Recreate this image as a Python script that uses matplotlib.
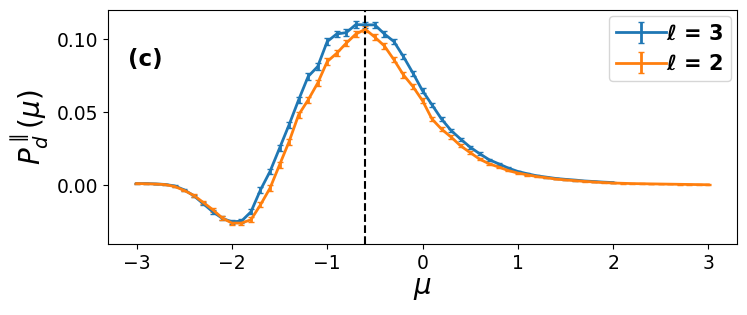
import numpy as np
import matplotlib.pyplot as plt

# ── data ──
mu_l3 = np.round(np.arange(-3.0, 2.0001, 0.1), 1)
P_l3 = [0.0013, 0.0013, 0.0011, 0.0007, -0.0003, -0.0030, -0.0070, -0.0125, -0.0180, -0.0225,
        -0.0248, -0.0244, -0.0180, -0.0030, 0.0096, 0.0255, 0.0415, 0.0585, 0.0745, 0.0813,
        0.0984, 0.1036, 0.1045, 0.1100, 0.1098, 0.1098, 0.1036, 0.0984, 0.0881, 0.0768,
        0.0648, 0.0551, 0.0454, 0.0376, 0.0317, 0.0262, 0.0217, 0.0176, 0.0148, 0.0119,
        0.0096, 0.0080, 0.0066, 0.0057, 0.0048, 0.0042, 0.0037, 0.0031, 0.0027, 0.0023,
        0.0020]
err_l3 = [0.0002, 0.0002, 0.0002, 0.0003, 0.0004, 0.0006, 0.0008, 0.0010, 0.0012, 0.0013,
          0.0014, 0.0015, 0.0016, 0.0018, 0.0019, 0.0020, 0.0021, 0.0022, 0.0022, 0.0022,
          0.0022, 0.0022, 0.0022, 0.0022, 0.0022, 0.0021, 0.0020, 0.0019, 0.0018, 0.0017,
          0.0016, 0.0015, 0.0013, 0.0012, 0.0011, 0.0010, 0.0009, 0.0008, 0.0007, 0.0006,
          0.0005, 0.0005, 0.0004, 0.0004, 0.0003, 0.0003, 0.0003, 0.0002, 0.0002, 0.0002,
          0.0002]

mu_l2 = np.round(np.arange(-3.0, 3.0001, 0.1), 1)
P_l2 = [0.0013, 0.0012, 0.0010, 0.0006, -0.0007, -0.0034, -0.0068, -0.0116, -0.0166, -0.0223,
        -0.0257, -0.0257, -0.0234, -0.0132, -0.0018, 0.0141, 0.0300, 0.0483, 0.0585, 0.0700,
        0.0847, 0.0904, 0.0973, 0.1035, 0.1068, 0.1014, 0.0954, 0.0860, 0.0756, 0.0676,
        0.0580, 0.0454, 0.0385, 0.0331, 0.0271, 0.0225, 0.0180, 0.0148, 0.0126, 0.0102,
        0.0085, 0.0073, 0.0061, 0.0053, 0.0044, 0.0038, 0.0033, 0.0028, 0.0024, 0.0020,
        0.0017, 0.0015, 0.0013, 0.0012, 0.0011, 0.0010, 0.0009, 0.0008, 0.0007, 0.0006,
        0.0005]
err_l2 = [0.0002, 0.0002, 0.0002, 0.0003, 0.0004, 0.0006, 0.0008, 0.0010, 0.0012, 0.0013,
          0.0014, 0.0015, 0.0016, 0.0018, 0.0019, 0.0020, 0.0021, 0.0022, 0.0022, 0.0022,
          0.0022, 0.0022, 0.0022, 0.0022, 0.0022, 0.0021, 0.0020, 0.0019, 0.0018, 0.0017,
          0.0016, 0.0015, 0.0013, 0.0012, 0.0011, 0.0010, 0.0009, 0.0008, 0.0007, 0.0006,
          0.0005, 0.0005, 0.0004, 0.0004, 0.0003, 0.0003, 0.0003, 0.0002, 0.0002, 0.0002,
          0.0002, 0.0002, 0.0002, 0.0002, 0.0002, 0.0002, 0.0002, 0.0002, 0.0002, 0.0002,
          0.0002]

mu_star = -0.6
xticks = [-3, -2, -1, 0, 1, 2, 3]
yticks = [0.00, 0.05, 0.10]

# ── figure ──
fig = plt.figure(figsize=(7.47, 3.15), dpi=100)
ax = fig.add_axes([0.1446, 0.2254, 0.842, 0.743])

ax.errorbar(mu_l3, P_l3, yerr=err_l3, color="tab:blue", lw=2, capsize=2,
            label=r"$\boldsymbol{\ell}$ = 3")
ax.errorbar(mu_l2, P_l2, yerr=err_l2, color="tab:orange", lw=2, capsize=2,
            label=r"$\boldsymbol{\ell}$ = 2")
ax.axvline(mu_star, color="black", ls="--", lw=1.5)

ax.set_xlim(-3.3, 3.3)
ax.set_ylim(-0.04, 0.12)
ax.set_xticks(xticks)
ax.set_yticks(yticks)
ax.tick_params(labelsize=13.5)

ax.set_xlabel(r"$\mu$", fontsize=20, labelpad=1)
ax.set_ylabel(r"$P_d^{\parallel}(\mu)$", fontsize=20, labelpad=4)
ax.text(0.032, 0.79, "(c)", transform=ax.transAxes, fontsize=16.5,
        fontweight="bold", va="center")

leg = ax.legend(loc="upper right", prop={"size": 15, "weight": "bold"},
                handlelength=2.4, handletextpad=0.0, borderaxespad=0.3,
                borderpad=0.35)

fig.savefig("out.png", dpi=100)
